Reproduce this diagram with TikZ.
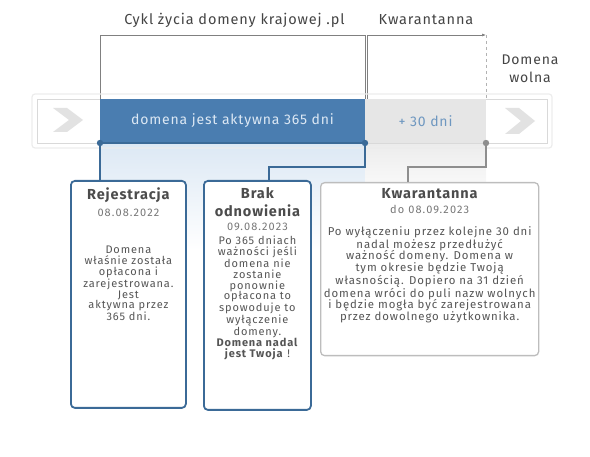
\documentclass[tikz,border=0pt]{standalone}
\usepackage{fontspec}
\setmainfont{Fira Sans}
\newfontfamily\espace[LetterSpace=8]{Fira Sans}
\newfontfamily\espacetitre[LetterSpace=6]{Fira Sans}
\newfontfamily\espacedate[LetterSpace=10]{Fira Sans}
\usetikzlibrary{arrows.meta,positioning}
\definecolor{bleu}{HTML}{4A7DB0}
\definecolor{bleufonce}{HTML}{3B6A97}
\definecolor{bleuclair}{HTML}{DCE8F4}
\definecolor{grisfond}{HTML}{E6E6E6}
\definecolor{gristexte}{HTML}{555555}
\definecolor{grislien}{HTML}{8E8E8E}
\definecolor{grisbord}{HTML}{BDBDBD}
\definecolor{fleche}{HTML}{E2E2E2}
\tikzset{
  etape/.style={draw=bleufonce, line width=1.8pt, rounded corners=4pt, fill=white, anchor=north west, inner sep=0pt},
  etapegris/.style={etape, draw=grisbord, line width=1.3pt},
  titre/.style={inner sep=0pt, text=gristexte!90!black, font=\espacetitre\fontsize{14.5}{18}\selectfont\bfseries, align=center},
  date/.style={inner sep=0pt, text=gristexte!80, font=\espacedate\fontsize{11}{12}\selectfont},
  corps/.style={inner sep=0pt, text=gristexte, align=center, font=\espace\fontsize{11}{10.8}\selectfont},
  lienbleu/.style={draw=bleufonce, line width=1.8pt},
  liengris/.style={draw=grislien, line width=1.8pt},
  crochet/.style={draw=gray, line width=0.6pt},
  chevron/.style={fill=fleche},
  haut/.style={text=gristexte!80!black, font=\espacetitre\fontsize{14.5}{18}\selectfont, align=center}
}
\begin{document}
\begin{tikzpicture}[x=1pt,y=-1pt]
\useasboundingbox (0,0) rectangle (590,457);

% titres
\node[haut] (cycle) at (234.5,20) {Cykl życia domeny krajowej .pl};
\node[haut] (quar) at (426,20) {Kwarantanna};
\node[haut, font=\espacetitre\fontsize{14}{18}\selectfont] (libre) at (530,69) {Domena\\wolna};

% crochets
\draw[crochet] (100,99) -- (100,35) -- (365,35) -- (365,99);
\draw[crochet, -{Latex[length=4pt,width=3pt]}] (367,99) -- (367,35) -- (486,35);
\draw[crochet, gray!60, dashed] (486,35) -- (486,143);

% degrades sous la bande
\fill[top color=bleuclair, bottom color=white] (100,143) rectangle (365,250);
\fill[top color=gray!15, bottom color=white] (365,143) rectangle (486,205);

% bande
\draw[gray!15, line width=1.2pt, rounded corners=3pt] (32,94) rectangle (552,148);
\draw[gray!30, fill=white, line width=0.6pt] (37,99) rectangle (547,143);
\fill[bleu] (100,99) rectangle (365,143);
\draw[bleufonce, line width=1.2pt] (100,143) -- (365,143);
\fill[grisfond] (365,99) rectangle (486,143);
\fill[chevron] (53,108) -- (67,108) -- (83,120) -- (67,132) -- (53,132) -- (69,120) -- cycle;
\fill[chevron] (505,108) -- (519,108) -- (535,121) -- (519,134) -- (505,134) -- (521,121) -- cycle;
\node[text=bleuclair, font=\espacetitre\fontsize{14}{16}\selectfont] (actif) at (232.5,121) {domena jest aktywna 365 dni};
\node[text=bleu!80, font=\espacetitre\fontsize{14}{16}\selectfont] (plus) at (425.5,121) {+ 30 dni};

% points
\coordinate (p1) at (100,143);
\coordinate (p2) at (365,143);
\coordinate (p3) at (486,143);

% boites
\node[etape, minimum width=115pt, minimum height=227pt] (reg) at (70,180) {};
\node[etape, minimum width=107pt, minimum height=229pt] (brak) at (203,180) {};
\node[etapegris, minimum width=218pt, minimum height=173pt] (kw) at (320,182) {};

% liens
\draw[lienbleu] (p1) -- (p1 |- reg.north);
\draw[lienbleu] (p2) -- (365,167) -| ([xshift=11.5pt]brak.north);
\draw[liengris] (p3) -- (486,167) -| ([xshift=-22pt]kw.north);
\fill[bleufonce] (p1) circle (3.2);
\fill[bleufonce] (p2) circle (3.2);
\fill[grislien] (p3) circle (3.2);

% Rejestracja
\node[titre, below=7.5pt of reg.north] (regt) {Rejestracja};
\node[date, below=29pt of reg.north] (regd) {08.08.2022};
\node[corps, below=66pt of reg.north] (regc) {Domena\\właśnie została\\opłacona i\\zarejestrowana.\\Jest\\aktywna przez\\365 dni.};

% Brak odnowienia
\node[titre, below=7.5pt of brak.north] (brakt) {Brak\\odnowienia};
\node[date, below=43pt of brak.north] (brakd) {09.08.2023};
\node[corps, below=56pt of brak.north] (brakc) {Po 365 dniach\\ważności jeśli\\domena nie\\zostanie\\ponownie\\opłacona to\\spowoduje to\\wyłączenie\\domeny.\\\textbf{Domena nadal}\\\textbf{jest Twoja} !};

% Kwarantanna
\node[titre, below=6pt of kw.north] (kwt) {Kwarantanna};
\node[date, below=23pt of kw.north] (kwd) {do 08.09.2023};
\node[corps, font=\espace\fontsize{11.4}{11.7}\selectfont, below=44pt of kw.north] (kwc) {Po wyłączeniu przez kolejne 30 dni\\nadal możesz przedłużyć\\ważność domeny. Domena w\\tym okresie będzie Twoją\\własnością. Dopiero na 31 dzień\\domena wróci do puli nazw wolnych\\i będzie mogła być zarejestrowana\\przez dowolnego użytkownika.};
\end{tikzpicture}
\end{document}
